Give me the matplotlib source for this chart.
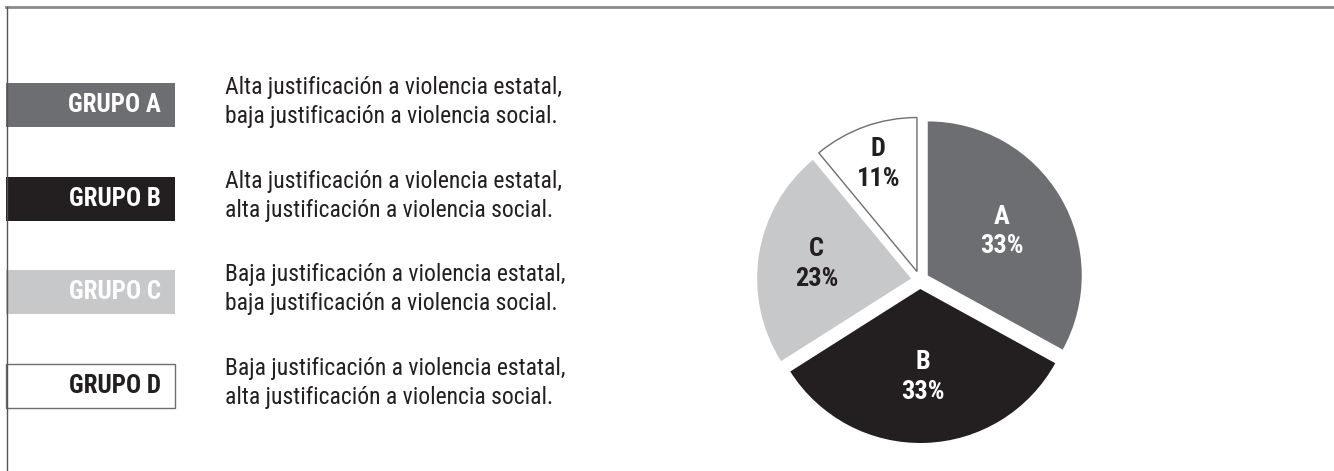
import matplotlib
matplotlib.use('Agg')
import matplotlib.pyplot as plt
from matplotlib.patches import Rectangle
import numpy as np

FAMILY = ['Roboto Condensed', 'Liberation Sans Narrow', 'DejaVu Sans Condensed', 'Roboto', 'DejaVu Sans']

groups = ['A', 'B', 'C', 'D']
shares = [33, 33, 23, 11]
group_tags = ['GRUPO A', 'GRUPO B', 'GRUPO C', 'GRUPO D']
descriptions = [
    'Alta justificación a violencia estatal,\nbaja justificación a violencia social.',
    'Alta justificación a violencia estatal,\nalta justificación a violencia social.',
    'Baja justificación a violencia estatal,\nbaja justificación a violencia social.',
    'Baja justificación a violencia estatal,\nalta justificación a violencia social.',
]

fills = ['#6d6e71', '#231f20', '#c7c8ca', '#ffffff']
tag_colors = ['#ffffff', '#ffffff', '#ffffff', '#231f20']
pie_text_colors = ['#ffffff', '#ffffff', '#231f20', '#231f20']
label_r = [0.56, 0.57, 0.62, 0.74]

W, H = 1334, 471
fig = plt.figure(figsize=(W / 100, H / 100), dpi=100)
ax = fig.add_axes([0, 0, 1, 1])

# pie drawn straight in pixel units (y grows upwards), explode is in px too
cx, cy, rad = 920, 471 - 280, 154
wedges, _ = ax.pie(shares, center=(cx, cy), radius=rad, startangle=90,
                   counterclock=False, colors=fills, explode=[9] * 4,
                   frame=True, wedgeprops=dict(linewidth=0))
wedges[3].set_edgecolor('#6d6e71')
wedges[3].set_linewidth(1.0)

for w, g, s, rr, c in zip(wedges, groups, shares, label_r, pie_text_colors):
    mid = np.deg2rad((w.theta1 + w.theta2) / 2)
    x0, y0 = w.center
    ax.text(x0 + rr * rad * np.cos(mid), y0 + rr * rad * np.sin(mid),
            f'{g}\n{s}%', ha='center', va='center', color=c,
            fontsize=19, fontweight='bold', fontstretch='condensed',
            family=FAMILY, linespacing=1.3)

# legend rows on the left
row_y = [105, 199, 292, 386]
for i, yc in enumerate(row_y):
    y = H - yc
    box = Rectangle((6, y - 22), 169, 44, facecolor=fills[i],
                    edgecolor='#6d6e71' if i == 3 else 'none', linewidth=1.0)
    ax.add_patch(box)
    ax.text(161, y, group_tags[i], ha='right', va='center', color=tag_colors[i],
            fontsize=18, fontweight='bold', fontstretch='condensed', family=FAMILY)
    ax.text(225, y + 3, descriptions[i], ha='left', va='center', color='#231f20',
            fontsize=17, fontstretch='condensed', family=FAMILY, linespacing=1.28)

# frame lines on top and left
ax.plot([6, W], [H - 7, H - 7], color='#8a8a8a', linewidth=2)
ax.plot([6.5, 6.5], [0, H - 7], color='#555555', linewidth=1)

ax.set_xlim(0, W)
ax.set_ylim(0, H)
ax.set_aspect('auto')
ax.axis('off')

fig.savefig('out.png', dpi=100, facecolor='white')
